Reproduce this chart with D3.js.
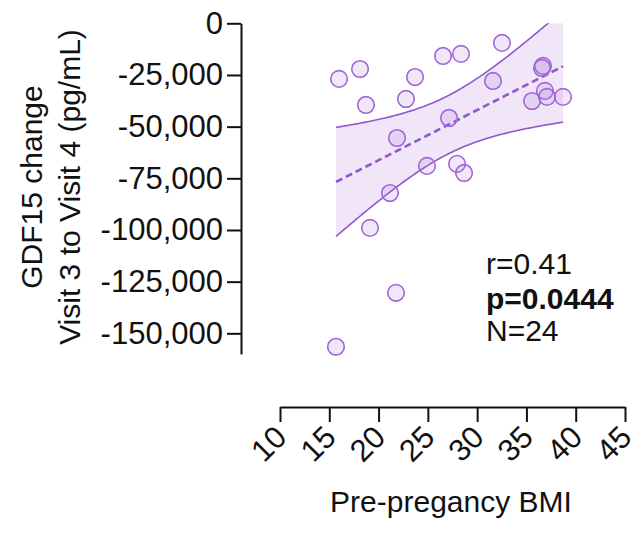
<!DOCTYPE html>
<html lang="en">
<head>
<meta charset="UTF-8">
<script src="https://d3js.org/d3.v7.min.js"></script>
<style>
  body { margin: 0; background: #fff; }
  text { font-family: "Liberation Sans", Arial, sans-serif; fill: #111; }
  .axis path, .axis line { stroke: #111; stroke-width: 2px; }
</style>
</head>
<body>
<svg width="641" height="534"></svg>
<script>
// Pre-pregnancy BMI and GDF15 change
var bmi = [15.99, 18.12, 18.72, 19.13, 21.16, 21.77, 21.87, 22.78, 23.70, 24.91, 26.54, 27.15,
           27.96, 28.36, 28.67, 31.61, 32.52, 35.57, 36.58, 36.68, 36.88, 37.09, 38.71, 15.68];
var gdf15 = [-26900, -22100, -39500, -99000, -82100, -130400, -55500, -36600, -26000, -69000, -15800, -45800,
             -68000, -14800, -72400, -27900, -9500, -37600, -21600, -20600, -32700, -35600, -35600, -156500];
var xTicks = [10, 15, 20, 25, 30, 35, 40, 45];
var yTicks = [0, -25000, -50000, -75000, -100000, -125000, -150000];
var statLines = ["r=0.41", "p=0.0444", "N=24"];

var svg = d3.select("svg");

var x = d3.scaleLinear().domain([10, 45]).range([280, 625]);
var y = d3.scaleLinear().domain([-160000, 0]).range([354, 23.3]);

var purple = "#9257cc";

// linear fit + 95% confidence band
var n = bmi.length;
var mx = d3.mean(bmi), my = d3.mean(gdf15);
var sxx = d3.sum(bmi, function(v) { return (v - mx) * (v - mx); });
var sxy = d3.sum(bmi, function(v, i) { return (v - mx) * (gdf15[i] - my); });
var slope = sxy / sxx, icpt = my - slope * mx;
var sse = d3.sum(bmi, function(v, i) { var e = gdf15[i] - (icpt + slope * v); return e * e; });
var se = Math.sqrt(sse / (n - 2));
var tval = 2.074; // t(0.975, 22)

var x0 = d3.min(bmi), x1 = d3.max(bmi);
var band = d3.range(0, 101).map(function(k) {
  var xv = x0 + (x1 - x0) * k / 100;
  var fit = icpt + slope * xv;
  var h = tval * se * Math.sqrt(1 / n + (xv - mx) * (xv - mx) / sxx);
  return { x: xv, lo: fit - h, hi: fit + h, fit: fit };
});

svg.append("clipPath").attr("id", "plotclip")
  .append("rect")
  .attr("x", x(10)).attr("y", y(0))
  .attr("width", x(45) - x(10)).attr("height", y(-160000) - y(0));

var plot = svg.append("g").attr("clip-path", "url(#plotclip)");

plot.append("path")
  .datum(band)
  .attr("fill", "#f0e6f8")
  .attr("d", d3.area().x(function(d) { return x(d.x); })
    .y0(function(d) { return y(d.lo); }).y1(function(d) { return y(d.hi); }));

["lo", "hi"].forEach(function(k) {
  plot.append("path")
    .datum(band)
    .attr("fill", "none")
    .attr("stroke", purple)
    .attr("stroke-width", 1.6)
    .attr("d", d3.line().x(function(d) { return x(d.x); }).y(function(d) { return y(d[k]); }));
});

svg.selectAll("circle.pt")
  .data(bmi)
  .enter().append("circle")
    .attr("class", "pt")
    .attr("cx", function(d) { return x(d); })
    .attr("cy", function(d, i) { return y(gdf15[i]); })
    .attr("r", 8.3)
    .attr("fill", "rgba(170, 120, 215, 0.18)")
    .attr("stroke", "#a065d6")
    .attr("stroke-width", 1.6);

plot.append("path")
  .datum(band)
  .attr("fill", "none")
  .attr("stroke", purple)
  .attr("stroke-width", 2.6)
  .attr("stroke-dasharray", "7,4")
  .attr("d", d3.line().x(function(d) { return x(d.x); }).y(function(d) { return y(d.fit); }));

// y axis
var yAxis = svg.append("g")
  .attr("class", "axis")
  .attr("transform", "translate(241,0)")
  .call(d3.axisLeft(y).tickValues(yTicks).tickSize(14).tickPadding(4).tickSizeOuter(0)
    .tickFormat(function(d) { return d === 0 ? "0" : d3.format(",")(d).replace("−", "-"); }));
yAxis.selectAll("text").style("font-size", "31px").attr("fill", "#111");

// x axis
var xAxis = svg.append("g")
  .attr("class", "axis")
  .attr("transform", "translate(0,407)")
  .call(d3.axisBottom(x).tickValues(xTicks).tickSize(15).tickSizeOuter(0));
xAxis.selectAll("text")
  .style("font-size", "31px")
  .attr("fill", "#111")
  .attr("text-anchor", "end")
  .attr("dy", null)
  .attr("y", 0)
  .attr("transform", "translate(8,32) rotate(-45)");

// axis titles
var yTitle = svg.append("text")
  .attr("transform", "translate(0,187) rotate(-90)")
  .attr("text-anchor", "middle")
  .style("font-size", "30px");
yTitle.append("tspan").attr("x", 0).attr("y", 42).text("GDF15 change");
yTitle.append("tspan").attr("x", 0).attr("y", 80).text("Visit 3 to Visit 4 (pg/mL)");

svg.append("text")
  .attr("x", 451).attr("y", 512)
  .attr("text-anchor", "middle")
  .style("font-size", "30px")
  .text("Pre-pregancy BMI");

// stats
svg.selectAll("text.stat")
  .data(statLines)
  .enter().append("text")
    .attr("class", "stat")
    .attr("x", 486)
    .attr("y", function(d, i) { return [274, 309, 341][i]; })
    .style("font-size", "30px")
    .style("font-weight", function(d, i) { return i === 1 ? "bold" : "normal"; })
    .text(function(d) { return d; });
</script>
</body>
</html>
